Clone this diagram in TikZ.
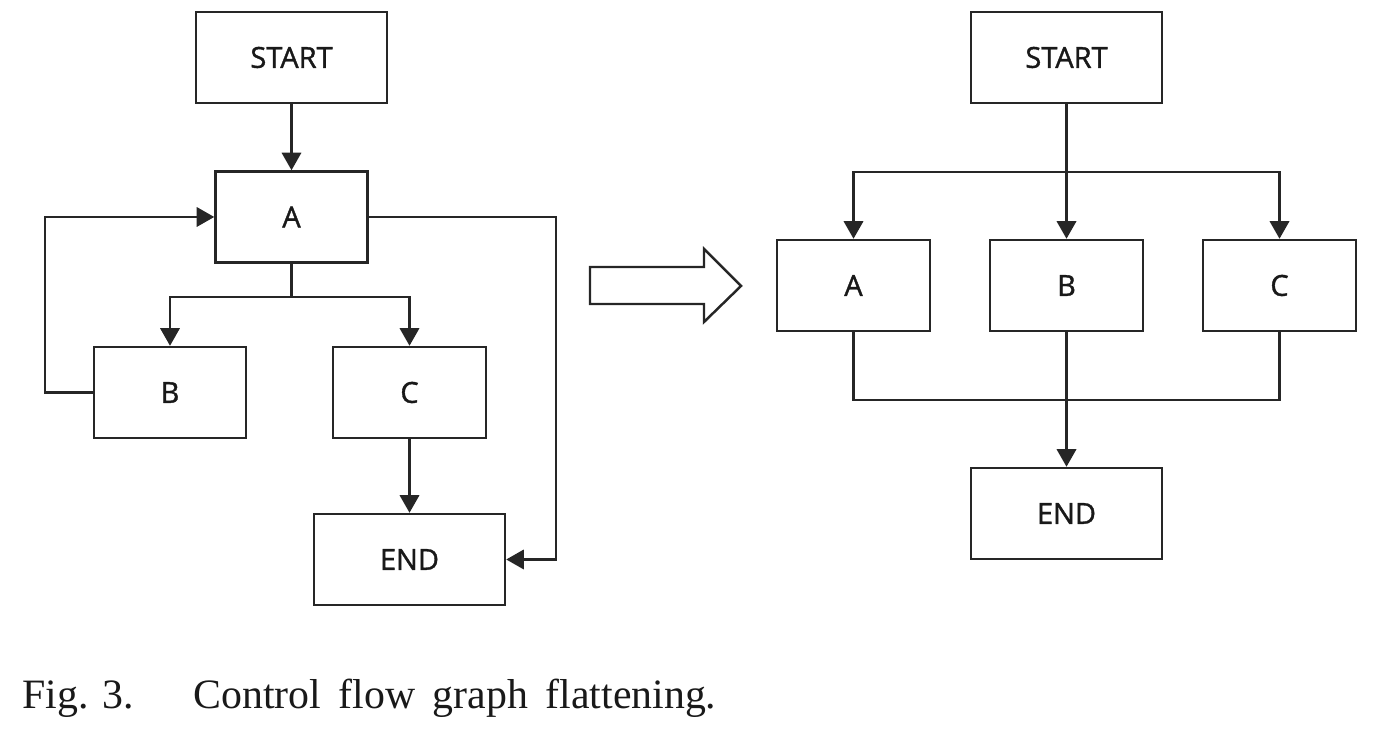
\documentclass[tikz,border=0pt]{standalone}
\usepackage{fontspec}
\setmainfont{Liberation Serif}
\newfontfamily\boxfont[FakeBold=1.2]{Open Sans}
\usetikzlibrary{arrows.meta}
\begin{document}
\begin{tikzpicture}[x=0.02cm,y=-0.02cm,
  box/.style={draw=black!85,line width=1.4pt,inner sep=0pt,font=\boxfont\fontsize{16.5}{18}\selectfont,text=black!90},
  conn/.style={draw=black!85,line width=1.4pt},
  arr/.style={conn,-{Triangle[length=10pt,width=11pt]}}]
\useasboundingbox (0,0) rectangle (1377,732);
% left graph
\node[box,minimum width=191*0.02cm,minimum height=91*0.02cm] (ls) at (291.5,57.5) {START};
\node[box,minimum width=152*0.02cm,minimum height=91*0.02cm] (la) at (291.5,217) {A};
\node[box,minimum width=152*0.02cm,minimum height=91*0.02cm] (lb) at (170,392.5) {B};
\node[box,minimum width=153*0.02cm,minimum height=91*0.02cm] (lc) at (409.5,392.5) {C};
\node[box,minimum width=191*0.02cm,minimum height=91*0.02cm] (le) at (409.5,559.5) {END};
\coordinate (lsplit) at (291.5,297);
\draw[arr] (ls.south) -- (la.north);
\draw[conn] (la.south) -- (lsplit);
\draw[arr] (lsplit) -| (lb.north);
\draw[arr] (lsplit) -| (lc.north);
\draw[arr] (lb.west) -- ++(-48,0) |- (la.west);
\draw[arr] (la.east) -- ++(187,0) |- (le.east);
\draw[arr] (lc.south) -- (le.north);
% hollow arrow
\draw[draw=black!85,line width=1.4pt,line join=miter] (590,267) -- (704,267) -- (704,249) -- (741,286) -- (704,322) -- (704,304) -- (590,304) -- cycle;
% right graph
\node[box,minimum width=191*0.02cm,minimum height=91*0.02cm] (rs) at (1066.5,57.5) {START};
\node[box,minimum width=153*0.02cm,minimum height=91*0.02cm] (ra) at (853.5,285.5) {A};
\node[box,minimum width=153*0.02cm,minimum height=91*0.02cm] (rb) at (1066.5,285.5) {B};
\node[box,minimum width=153*0.02cm,minimum height=91*0.02cm] (rc) at (1279.5,285.5) {C};
\node[box,minimum width=191*0.02cm,minimum height=91*0.02cm] (re) at (1066.5,513.5) {END};
\coordinate (rsplit) at (1066.5,172);
\coordinate (rjoin) at (1066.5,400);
\draw[arr] (rs.south) -- (rb.north);
\draw[arr] (rsplit) -| (ra.north);
\draw[arr] (rsplit) -| (rc.north);
\draw[conn] (ra.south) |- (rjoin) -| (rc.south);
\draw[arr] (rb.south) -- (re.north);
% caption
\node[anchor=base west,inner sep=0pt,font=\fontsize{23.8}{26}\selectfont,text=black!90] (fig) at (22,709) {Fig. 3.};
\node[anchor=base west,inner sep=0pt,font=\fontsize{23.8}{26}\selectfont,text=black!90] (cap) at (193,709) {\spaceskip=0.42em plus 0.1em Control flow graph flattening.};
\end{tikzpicture}
\end{document}
